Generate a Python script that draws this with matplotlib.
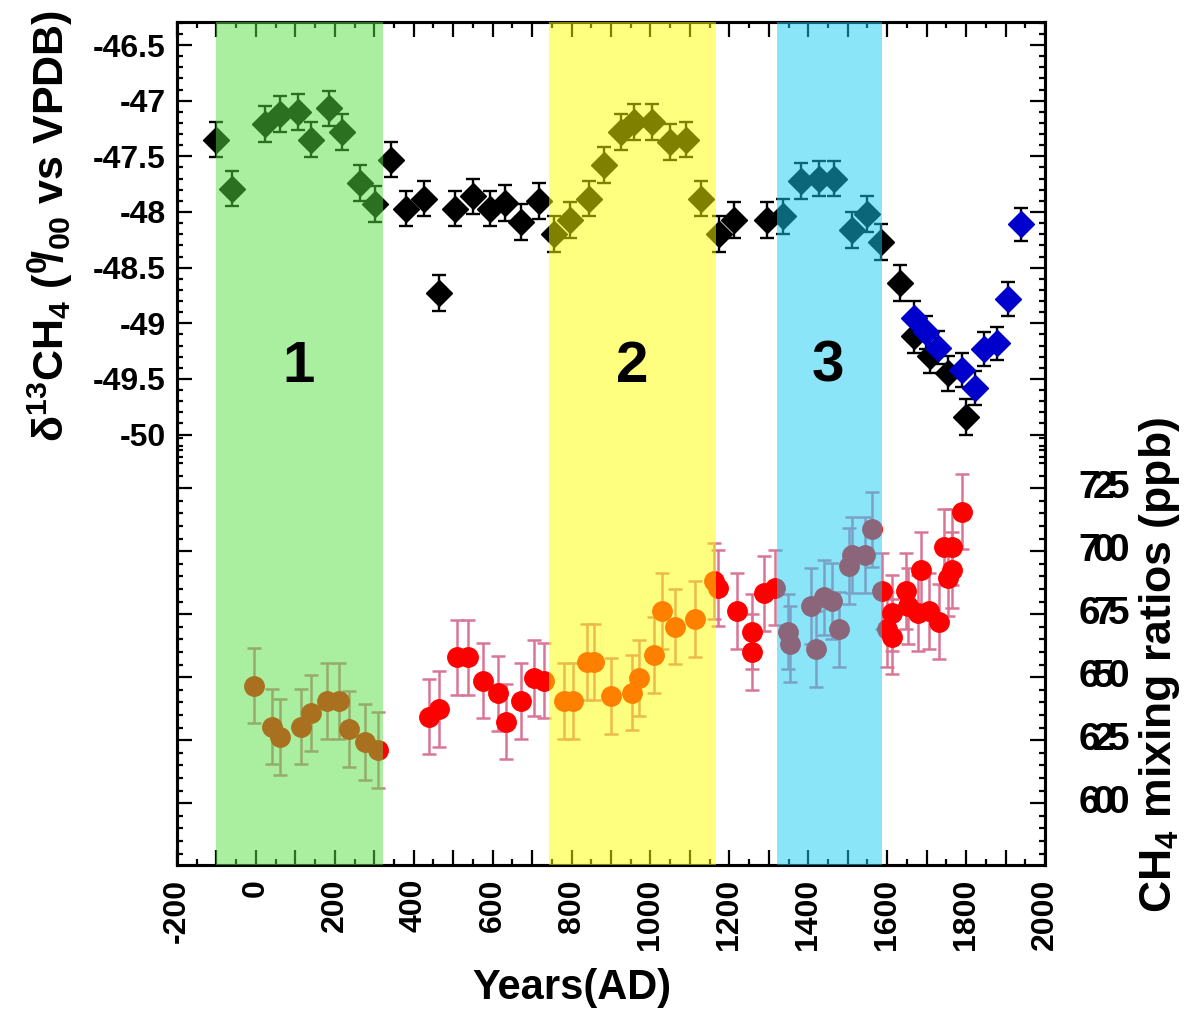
import numpy as np
import matplotlib
matplotlib.use("Agg")
import matplotlib.pyplot as plt
from matplotlib.ticker import MultipleLocator, FixedLocator, FuncFormatter
from matplotlib.transforms import blended_transform_factory, offset_copy

plt.rcParams['font.family'] = ['Liberation Sans', 'DejaVu Sans']
plt.rcParams['font.weight'] = 'bold'
plt.rcParams['mathtext.fontset'] = 'custom'
plt.rcParams['mathtext.rm'] = 'Liberation Sans:bold'
plt.rcParams['mathtext.it'] = 'Liberation Sans:bold'
plt.rcParams['mathtext.bf'] = 'Liberation Sans:bold'

# ---------------- data ----------------
d13c_year = [-101, -61, 23, 61, 107, 140, 185, 218, 264, 302, 342, 380, 426, 465,
             504, 550, 593, 631, 673, 718, 756, 796, 843, 881, 925, 959, 1005, 1050,
             1089, 1128, 1174, 1212, 1295, 1335, 1382, 1426, 1465, 1510, 1550, 1584,
             1633, 1667, 1709, 1755, 1801]
d13c_val = [-47.35, -47.79, -47.21, -47.12, -47.10, -47.35, -47.07, -47.28, -47.74,
            -47.93, -47.53, -47.97, -47.88, -48.73, -47.97, -47.86, -47.97, -47.92,
            -48.09, -47.90, -48.20, -48.07, -47.88, -47.58, -47.28, -47.19, -47.19,
            -47.37, -47.35, -47.88, -48.20, -48.07, -48.07, -48.04, -47.72, -47.70,
            -47.70, -48.16, -48.02, -48.27, -48.64, -49.11, -49.29, -49.45, -49.84]
d13c_err = [0.16] * len(d13c_year)

blue_year = [1667, 1698, 1730, 1789, 1823, 1846, 1878, 1906, 1938]
blue_val = [-48.95, -49.08, -49.22, -49.42, -49.58, -49.23, -49.18, -48.78, -48.11]
blue_err = [0.15] * len(blue_year)

ch4_year = [-4, 42, 62, 114, 140, 179, 211, 237, 277, 309, 439, 465, 510, 537, 575,
            614, 633, 672, 705, 731, 782, 803, 840, 856, 899, 952, 971, 1010, 1030,
            1062, 1114, 1160, 1172, 1219, 1257, 1257, 1289, 1316, 1348, 1354, 1407,
            1420, 1440, 1460, 1478, 1503, 1510, 1544, 1562, 1587, 1600, 1613, 1613,
            1647, 1653, 1679, 1685, 1705, 1732, 1744, 1755, 1765, 1765, 1790]
ch4_val = [646.7, 630.4, 626.4, 630.4, 635.7, 640.6, 640.6, 629.4, 624.4, 621.2,
           634.4, 637.4, 657.9, 657.9, 648.7, 643.6, 632.4, 640.6, 649.8, 648.7,
           640.6, 640.6, 656.0, 656.0, 642.6, 643.9, 649.8, 658.8, 676.3, 670.1,
           673.1, 688.3, 685.3, 676.3, 668.1, 659.9, 683.3, 685.6, 668.1, 663.1,
           678.3, 661.1, 681.7, 680.3, 669.0, 694.2, 698.5, 698.5, 708.7, 684.2,
           669.0, 675.4, 666.1, 684.2, 678.3, 675.4, 692.6, 676.4, 672.1, 701.6,
           689.3, 701.6, 692.6, 715.7]
ch4_err = [15.0] * len(ch4_year)

periods = [(-100, 322), (743, 1165), (1320, 1586)]
period_colors = ['#55e141', '#ffff00', '#19cdf5']
period_labels = ['1', '2', '3']
period_label_x = [107, 953, 1450]
period_label_y = -49.39

x_ticks = list(range(-200, 2001, 100))
d13c_ticks = [-50, -49.5, -49, -48.5, -48, -47.5, -47, -46.5]
ch4_ticks = [600, 625, 650, 675, 700, 725]

# ---------------- figure ----------------
fig = plt.figure(figsize=(11.94, 10.09), dpi=100)
ax = fig.add_axes([177/1194, 1-865/1009, (1045-177)/1194, (865-22)/1009])
ax2 = ax.twinx()

ax.set_xlim(-200, 2000)
ax.set_ylim(-53.867, -46.293)
ax2.set_ylim(575.5, 910.0)

# delta 13C series
ax.errorbar(d13c_year, d13c_val, yerr=d13c_err, fmt='D', color='black', ms=13,
            ecolor='black', elinewidth=1.7, capsize=5, capthick=1.7, zorder=3)
ax.errorbar(blue_year, blue_val, yerr=blue_err, fmt='D', color='#0000cc', ms=13,
            ecolor='black', elinewidth=1.7, capsize=5, capthick=1.7, zorder=4)

# CH4 series
ax2.errorbar(ch4_year, ch4_val, yerr=ch4_err, fmt='o', color='#ff0000', ms=14,
             ecolor='#d97595', elinewidth=1.8, capsize=5, capthick=1.8, zorder=3)

# periods
lab_trans = blended_transform_factory(ax2.transData, ax.transData)
for (x0, x1), c in zip(periods, period_colors):
    ax2.axvspan(x0, x1, color=c, alpha=0.5, lw=0, zorder=6)
for xl, lab in zip(period_label_x, period_labels):
    ax2.text(xl, period_label_y, lab, transform=lab_trans,
             ha='center', va='center', fontsize=42, fontweight='bold', zorder=10)

# ticks / axes styling
for s in ax.spines.values():
    s.set_linewidth(2.2)
ax.xaxis.set_major_locator(FixedLocator(x_ticks))
ax.xaxis.set_minor_locator(MultipleLocator(50))
ax.xaxis.set_major_formatter(FuncFormatter(lambda v, p: f"{int(round(v))}" if int(round(v)) % 200 == 0 else ""))
ax.yaxis.set_major_locator(FixedLocator(d13c_ticks))
ax.yaxis.set_minor_locator(FixedLocator(list(np.round(np.arange(-50.2, -46.25, 0.1), 2))))
ax.yaxis.set_major_formatter(FuncFormatter(lambda v, p: f"{v:g}"))

ax.tick_params(which='both', direction='in', top=True, bottom=True, left=True, right=True)
ax.tick_params(which='major', length=11, width=1.6, labelsize=23, pad=8)
ax.tick_params(which='minor', length=4.5, width=1.6)
ax.tick_params(axis='x', labelrotation=90, pad=10)
for lab in ax.get_xticklabels() + ax.get_yticklabels():
    lab.set_fontweight('bold')

ax2.yaxis.set_major_locator(FixedLocator(ch4_ticks))
ax2.yaxis.set_minor_locator(FixedLocator(list(range(580, 746, 5))))
ax2.yaxis.set_major_formatter(FuncFormatter(lambda v, p: ""))
ax2.tick_params(which='both', direction='in', left=True, right=True, labelright=True)
ax2.tick_params(which='major', length=11, width=1.6)
ax2.tick_params(which='minor', length=4.5, width=1.6)
for s in ax2.spines.values():
    s.set_linewidth(2.2)

# garbled-looking right tick labels (overlapping characters, as in the original)
rtrans = blended_transform_factory(ax2.transAxes, ax2.transData)
for v in ch4_ticks:
    s = str(v)
    for i, ch in enumerate(s):
        tt = offset_copy(rtrans, fig=fig, x=24 + i * 10.5, y=0, units='points')
        ax2.text(1.0, v, ch, transform=tt, ha='left', va='center', fontsize=28,
                 fontweight='bold', clip_on=False)

# labels
fig.text(572/1194, 1-988/1009, 'Years(AD)', ha='center', va='center',
         fontsize=30, fontweight='bold')
fig.text(50/1194, 1-226/1009,
         'δ$^{13}$CH$_4$ ($^{0}\\!/_{00}$ vs VPDB)',
         rotation=90, ha='center', va='center', fontsize=31, fontweight='bold')
fig.text(1160/1194, 1-665/1009, r'CH$_4$ mixing ratios (ppb)',
         rotation=90, ha='center', va='center', fontsize=32, fontweight='bold')

fig.savefig('out.png', dpi=100)
